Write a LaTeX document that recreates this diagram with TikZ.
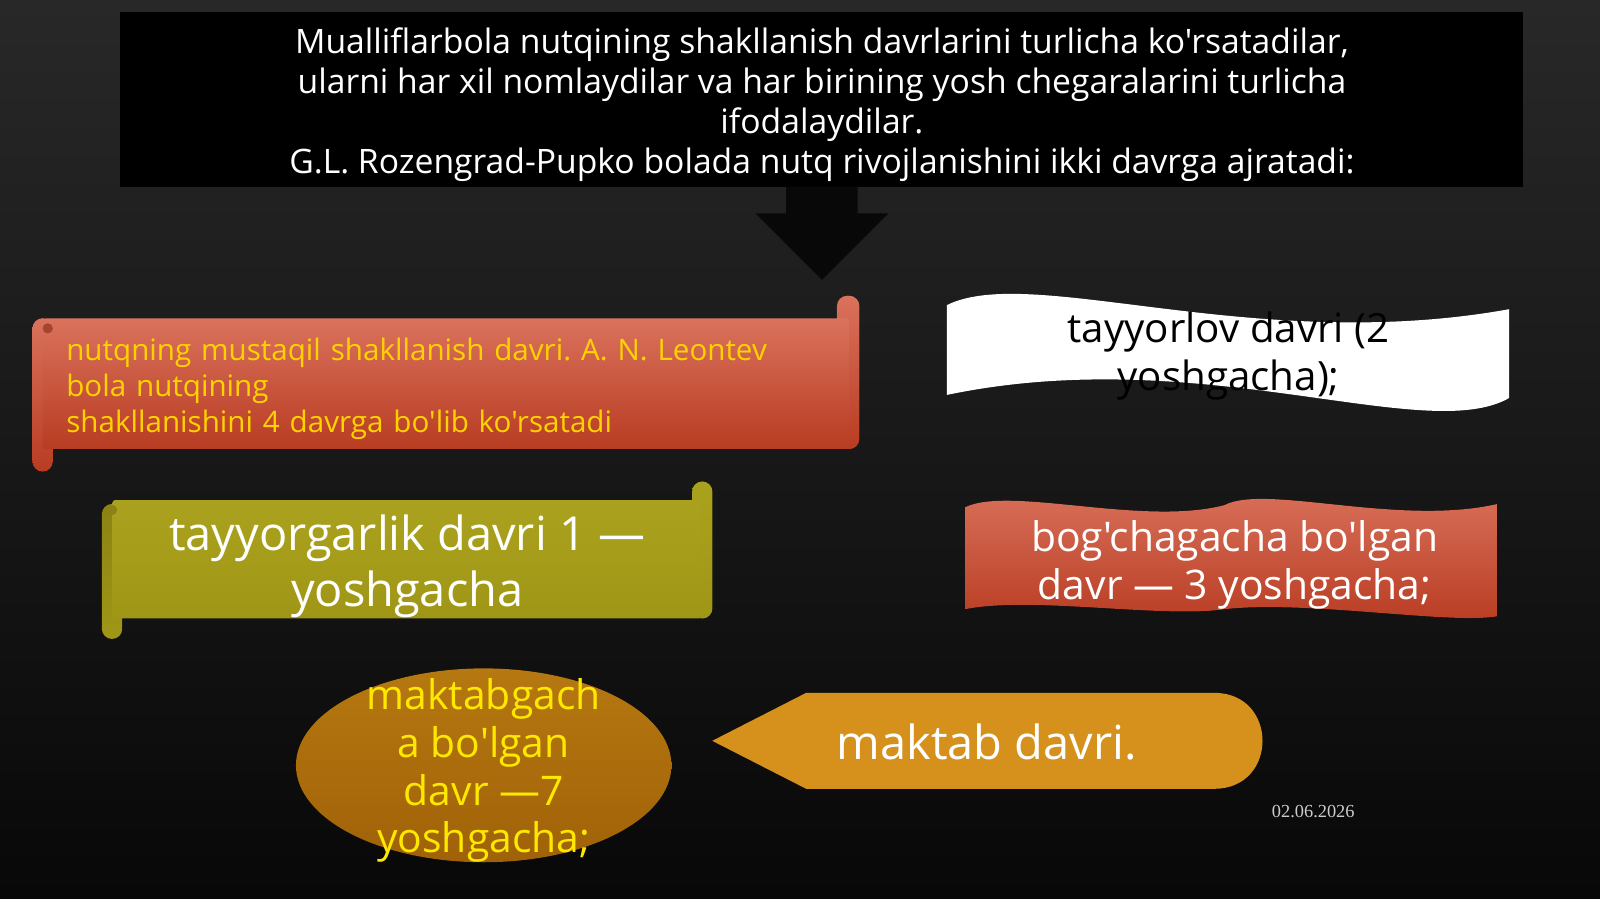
\documentclass[tikz,border=0pt]{standalone}
\usepackage{fontspec}
\setmainfont{Open Sans}[Ligatures=TeXOff]
\newfontfamily\datefont{Liberation Serif}
\usetikzlibrary{calc,backgrounds}
\frenchspacing

\definecolor{slidetop}{RGB}{40,40,40}
\definecolor{slidebottom}{RGB}{8,8,8}
\definecolor{coraltop}{RGB}{218,114,92}
\definecolor{coralbottom}{RGB}{184,60,34}
\definecolor{coralcurl}{RGB}{166,68,50}
\definecolor{olivetop}{RGB}{170,162,30}
\definecolor{olivebottom}{RGB}{160,150,22}
\definecolor{olivecurl}{RGB}{138,130,20}
\definecolor{ambertop}{RGB}{182,120,16}
\definecolor{amberbottom}{RGB}{160,98,8}
\definecolor{orangebox}{RGB}{214,145,28}
\definecolor{goldtext}{RGB}{255,210,0}
\definecolor{yellowtext}{RGB}{255,232,0}
\definecolor{datetext}{RGB}{205,205,205}

\begin{document}
\begin{tikzpicture}[
        x = 1pt, y = -1pt, % one unit = one slide pixel, y goes down
        inner sep = 0pt,
        every node/.style = {align=center}
      ]

      \tikzset{
        introbox/.style = {fill=black, text=white, font=\fontsize{33}{39}\selectfont},
        pointer/.style = {fill=black!97},
        scrollbody/.style = {rounded corners=3pt, text=white},
        wavetext/.style = {font=\fontsize{39.5}{47}\selectfont}
      }

      \useasboundingbox (0,0) rectangle (1568,881);

      % title box and its arrow
      \node[introbox, minimum width=1375pt, minimum height=171pt] (intro) at (805.5,97.5)
        {\raisebox{-5pt}[\height][\depth]{\parbox{1375pt}{\centering
         Mualliflarbola nutqining shakllanish davrlarini turlicha ko'rsatadilar,\\
         ularni har xil nomlaydilar va har birining yosh chegaralarini turlicha\\
         ifodalaydilar.\\
         G.L. Rozengrad-Pupko bolada nutq rivojlanishini ikki davrga ajratadi:}}};
      \fill[pointer] ($(intro.south)+(-35,0)$) -- ++(70,0) -- ++(0,26) -- ++(30,0)
        -- ++(-65,65) -- ++(-65,-65) -- ++(30,0) -- cycle;

      % left column: two scrolls and the ellipse
      \node[scrollbody, top color=coraltop, bottom color=coralbottom,
            minimum width=790pt, minimum height=128pt, text width=744pt, align=left,
            text=goldtext, font=\fontsize{29}{35}\selectfont] (leontev) at (437,376)
        {\raisebox{-5pt}[\height][\depth]{\parbox{744pt}{
         nutqning mustaqil shakllanish davri. A. N. Leontev\\
         bola nutqining\\
         shakllanishini 4 davrga bo'lib ko'rsatadi}}};
      \fill[coralcurl] ($(leontev.north west)+(5,10)$) circle [radius=5pt];

      \node[scrollbody, top color=olivetop, bottom color=olivebottom,
            minimum width=578pt, minimum height=116pt,
            font=\fontsize{46}{54}\selectfont] (earlystage) at (399,548)
        {\raisebox{-7pt}[\height][\depth]{\parbox{578pt}{\centering
         tayyorgarlik davri 1 —\\ yoshgacha}}};
      \fill[olivecurl] ($(earlystage.north west)+(0,10)$) circle [radius=5pt];

      \node[text=yellowtext, font=\fontsize{40}{47}\selectfont] (preschool) at (474,755)
        {maktabgach\\ a bo'lgan\\ davr —7\\ yoshgacha;};

      % right column: two waves and the display shape
      \node[wavetext, text=black] (prestage) at (1204,349)
        {tayyorlov davri (2\\ yoshgacha);};
      \node[wavetext, text=white, font=\fontsize{40}{47}\selectfont] (nursery) at (1210,554)
        {bog'chagacha bo'lgan\\ davr — 3 yoshgacha;};
      \node[text=white, font=\fontsize{46}{48}\selectfont] (schoolage) at (967,727)
        {maktab davri.};

      \node[text=datetext, font=\datefont\fontsize{18}{20}\selectfont] (date) at (1287,795)
        {02.06.2026};

      \begin{scope}[on background layer]
        \fill[top color=slidetop, bottom color=slidebottom] (0,0) rectangle (1568,881);

        % rolled ends of the scrolls
        \fill[rounded corners=10pt, top color=coraltop, bottom color=coralbottom]
          ($(leontev.north west)+(-10,0)$) rectangle ($(leontev.south west)+(10,22)$);
        \fill[rounded corners=10pt, top color=coraltop, bottom color=coralbottom]
          ($(leontev.north east)+(-12,-22)$) rectangle ($(leontev.south east)+(10,0)$);
        \fill[rounded corners=10pt, top color=olivecurl, bottom color=olivebottom]
          ($(earlystage.north west)+(-10,4)$) rectangle ($(earlystage.south west)+(10,20)$);
        \fill[rounded corners=10pt, top color=olivetop, bottom color=olivebottom]
          ($(earlystage.north east)+(-10,-18)$) rectangle ($(earlystage.south east)+(10,0)$);

        \fill[top color=ambertop, bottom color=amberbottom] ($(preschool.center)+(0,-5)$)
          ellipse [x radius=184, y radius=95];

        \fill[white] (928,299) .. controls (1010,258) and (1230,348) .. (1479,303)
          -- (1479,390) .. controls (1397,437) and (1177,335) .. (928,387) -- cycle;

        \fill[top color=coraltop, bottom color=coralbottom]
          (946,497) .. controls (990,476) and (1120,516) .. (1200,495)
          .. controls (1240,474) and (1370,516) .. (1467,494)
          -- (1467,604) .. controls (1420,612) and (1280,588) .. (1200,597)
          .. controls (1140,606) and (1010,584) .. (946,597) -- cycle;

        \fill[orangebox] (698,726) -- (790,679) -- (1190,679)
          .. controls (1253,679) and (1253,773) .. (1190,773) -- (790,773) -- cycle;
      \end{scope}
  \end{tikzpicture}
\end{document}
